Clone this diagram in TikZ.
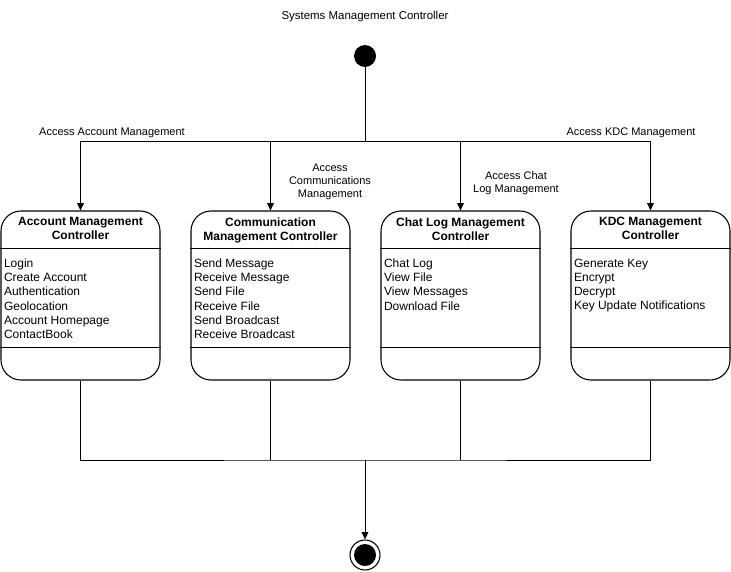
\documentclass[tikz,border=0pt]{standalone}
\usepackage{fontspec}
\setmainfont{Liberation Sans}
\usetikzlibrary{arrows.meta, positioning}

\begin{document}
\begin{tikzpicture}[
    x=0.75pt, y=-0.75pt,
    ctrl/.style={draw, rectangle, rounded corners=15pt, minimum width=119.25pt, minimum height=126.75pt, line width=0.8pt},
    head/.style={align=center, font=\fontsize{9}{10.5}\selectfont\bfseries, inner sep=0pt},
    items/.style={align=left, font=\fontsize{9}{10.7}\selectfont, anchor=north west, inner sep=0pt},
    lbl/.style={align=center, font=\fontsize{8.25}{9.75}\selectfont},
    line/.style={draw, line width=0.75pt},
    arr/.style={line, -{Triangle[length=5.5pt, width=5pt]}}
]
    \useasboundingbox (0,0) rectangle (731,571);

    \node[font=\fontsize{8.6}{10}\selectfont] (title) at (365,17) {Systems Management Controller};
    \node[circle, fill, minimum size=16.5pt, inner sep=0pt] (start) at (365,56) {};
    \coordinate (split) at (365,141);
    \coordinate (join) at (365,460);

    % controllers
    \node[ctrl] (acc) at (80.5,295.5) {};
    \node[ctrl] (com) at (270.5,295.5) {};
    \node[ctrl] (chat) at (460.5,295.5) {};
    \node[ctrl] (kdc) at (650.5,295.5) {};

    \node[head, below=5pt of acc.north] (acch) {Account Management\\Controller};
    \node[head, below=5pt of com.north] (comh) {Communication\\Management Controller};
    \node[head, below=5pt of chat.north] (chath) {Chat Log Management\\Controller};
    \node[head, below=5pt of kdc.north] (kdch) {KDC Management\\Controller};

    \foreach \c in {acc, com, chat, kdc} {
        \draw[line] ([yshift=-28.5pt]\c.north west) -- ([yshift=-28.5pt]\c.north east);
        \draw[line] ([yshift=-102.75pt]\c.north west) -- ([yshift=-102.75pt]\c.north east);
    }

    \node[items] (acci) at ([xshift=2.5pt, yshift=-36pt]acc.north west) {Login\\Create Account\\Authentication\\Geolocation\\Account Homepage\\ContactBook};
    \node[items] (comi) at ([xshift=2.5pt, yshift=-36pt]com.north west) {Send Message\\Receive Message\\Send File\\Receive File\\Send Broadcast\\Receive Broadcast};
    \node[items] (chati) at ([xshift=2.5pt, yshift=-36pt]chat.north west) {Chat Log\\View File\\View Messages\\Download File};
    \node[items] (kdci) at ([xshift=2.5pt, yshift=-36pt]kdc.north west) {Generate Key\\Encrypt\\Decrypt\\Key Update Notifications};

    \node[circle, draw, line width=0.8pt, minimum size=22.5pt, inner sep=0pt] (end) at (365,555) {};
    \fill (end) circle (8.25pt);

    % transitions
    \draw[line] (start) -- (split);
    \draw[arr] (split) -| (acc.north);
    \draw[arr] (split) -| (kdc.north);
    \draw[arr] (com.north |- split) -- (com.north);
    \draw[arr] (chat.north |- split) -- (chat.north);

    \node[lbl] (lacc) at (112,133) {Access Account Management};
    \node[lbl] (lcom) at (330,182) {Access\\Communications\\Management};
    \node[lbl] (lchat) at (516,183) {Access Chat\\Log Management};
    \node[lbl] (lkdc) at (631,133) {Access KDC Management};

    \draw[line] (acc.south) |- (join) -| (kdc.south);
    \draw[line] (com.south) -- (com.south |- join);
    \draw[line] (chat.south) -- (chat.south |- join);
    \draw[arr] (join) -- (end);
\end{tikzpicture}
\end{document}
